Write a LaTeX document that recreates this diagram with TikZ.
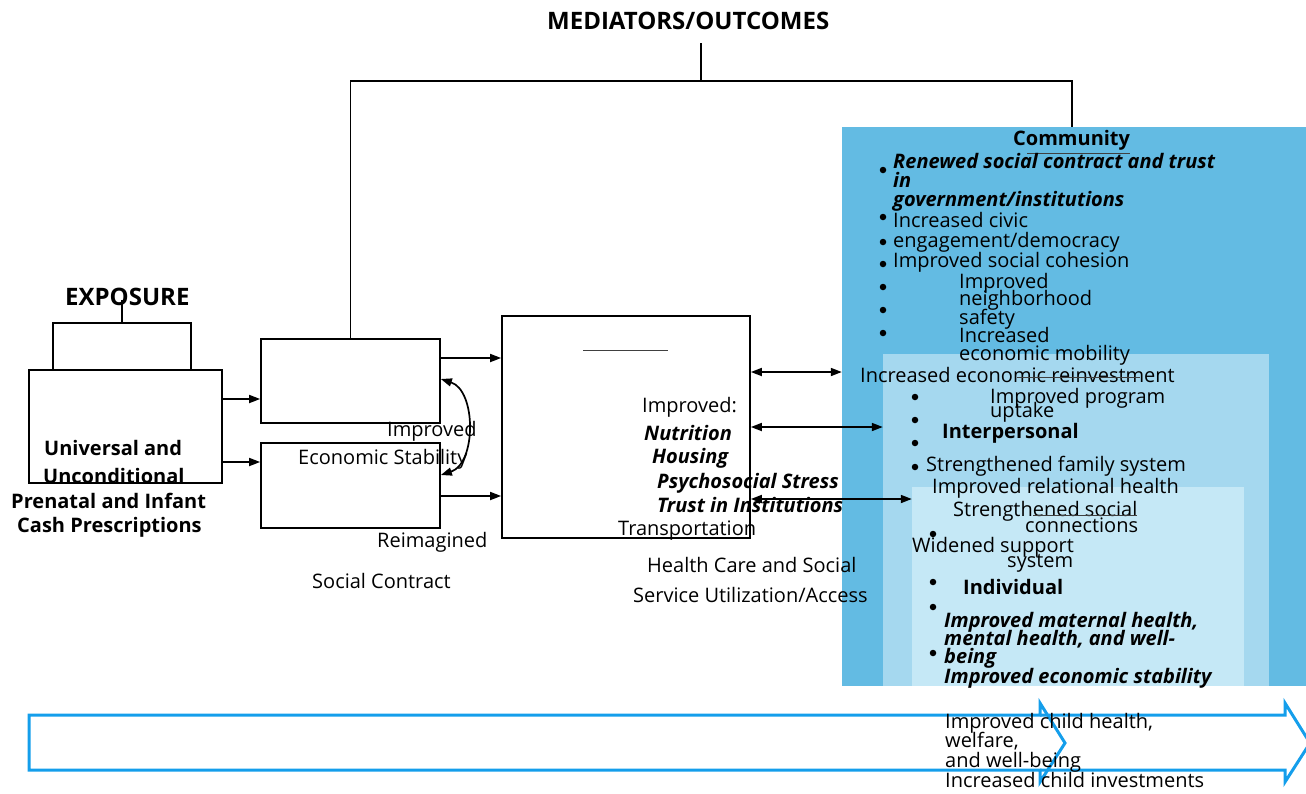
\documentclass[tikz,border=0pt]{standalone}
\usepackage{fontspec}
\setmainfont{Open Sans}
\usepackage{xcolor}
\usetikzlibrary{arrows.meta}
\definecolor{outerblue}{RGB}{99,187,227}
\definecolor{midblue}{RGB}{165,216,239}
\definecolor{innerblue}{RGB}{197,232,246}
\definecolor{bandblue}{RGB}{20,158,235}
\tikzset{
    box/.style={draw, line width=1.7pt, inner sep=0pt},
    panel/.style={draw=none, inner sep=0pt},
    txt/.style={anchor=base west, inner sep=0pt, font=\fontsize{20}{20}\selectfont},
    hd/.style={txt, font=\fontsize{20}{20}\selectfont\bfseries},
    bighd/.style={txt, font=\fontsize{24}{24}\selectfont\bfseries},
    bi/.style={txt, font=\fontsize{20}{20}\selectfont\bfseries\itshape},
    dot/.style={circle, fill, inner sep=0pt, minimum size=6.5pt},
    rule/.style={line width=1.5pt},
    thin/.style={line width=0.8pt, black!75},
    band/.style={draw=bandblue, line width=3pt, line join=miter}
}

\begin{document}
\begin{tikzpicture}[x=1pt, y=-1pt, >={Triangle[length=11pt,width=8pt]}]
    \useasboundingbox (0,0) rectangle (1306,793);

    \node [panel, fill=outerblue, minimum width=464pt, minimum height=559pt] (comm) at (1074,406.5) {};
    \node [panel, fill=midblue, minimum width=386pt, minimum height=332pt] (interp) at (1076,520) {};
    \node [panel, fill=innerblue, minimum width=332pt, minimum height=199pt] (indiv) at (1078,586.5) {};

    \node [box, minimum width=193pt, minimum height=113pt] (expo) at (125.5,426.5) {};
    \node [box, minimum width=138pt, minimum height=47pt] (expotab) at (122,346.5) {};
    \node [box, minimum width=179pt, minimum height=84pt] (econ) at (350.5,381) {};
    \node [box, minimum width=179pt, minimum height=85pt] (social) at (350.5,485.5) {};
    \node [box, minimum width=248pt, minimum height=222pt] (med) at (626,427) {};

    \coordinate (mtop) at (701,43);
    \coordinate (mjoin) at (701,81);
    \coordinate (etop) at (122,300);
    \draw [rule] (mtop) -- (mjoin);
    \draw [rule] (econ.north) |- (mjoin) -| (comm.north -| 1072,0);
    \draw [rule] (etop) -- (expotab.north);

    \node [bighd] (medtitle) at (547,29) {MEDIATORS/OUTCOMES};
    \node [bighd] (expotitle) at (65,305) {EXPOSURE};
    \node [hd] (univ) at (44,455) {Universal and};
    \node [hd] (uncond) at (43,483) {Unconditional};
    \node [hd] (prenatal) at (11,508) {Prenatal and Infant};
    \node [hd] (cash) at (17,532) {Cash Prescriptions};

    \draw [->, line width=1.7pt] (expo.east |- 0,399) to (econ.west |- 0,399);
    \draw [->, line width=1.7pt] (expo.east |- 0,462) to (social.west |- 0,462);
    \draw [->, line width=1.7pt] (econ.east |- 0,358) to (med.west |- 0,358);
    \draw [->, line width=1.7pt] (social.east |- 0,496) to (med.west |- 0,496);
    \draw [<->, line width=1.7pt] (econ.east |- 0,379) to [bend left=72] (social.east |- 0,475);
    \draw [<->, line width=1.7pt] (med.east |- 0,372) to (comm.west |- 0,372);
    \draw [<->, line width=1.7pt] (med.east |- 0,427) to (interp.west |- 0,427);
    \draw [<->, line width=1.7pt] (med.east |- 0,499) to (indiv.west |- 0,499);

    \node [txt] (impr1) at (387,436) {Improved};
    \node [txt] (econstab) at (298,464) {Economic Stability};
    \node [txt] (reimag) at (377,547) {Reimagined};
    \node [txt] (socctr) at (312,588) {Social Contract};

    \draw [thin] (583,350) -- (668,350);
    \node [txt] (imprmed) at (642,412) {Improved:};
    \node [bi] (nutr) at (644,440) {Nutrition};
    \node [bi] (hous) at (652,463) {Housing};
    \node [bi] (psych) at (657,488) {Psychosocial Stress};
    \node [bi] (trust) at (657,512) {Trust in Institutions};
    \node [txt] (transp) at (618,535) {Transportation};
    \node [txt] (hcare) at (647,572) {Health Care and Social};
    \node [txt] (serv) at (633,602) {Service Utilization/Access};

    \node [hd] (commtitle) at (1013,145) {Community};
    \draw [thin] (1027,153) -- (1130,153);
    \node [dot] (b1) at (883,170) {};
    \node [dot] (b2) at (883,217) {};
    \node [dot] (b3) at (883,242) {};
    \node [dot] (b4) at (883,264) {};
    \node [dot] (b5) at (883,287) {};
    \node [dot] (b6) at (883,310) {};
    \node [dot] (b7) at (883,333) {};
    \node [bi] (renew1) at (893,168) {Renewed social contract and trust};
    \node [bi] (renew2) at (893,187) {in};
    \node [bi] (renew3) at (893,206) {government/institutions};
    \node [txt] (civic1) at (893,227) {Increased civic};
    \node [txt] (civic2) at (893,247) {engagement/democracy};
    \node [txt] (cohes) at (893,267) {Improved social cohesion};
    \node [txt] (safe1) at (959,288) {Improved};
    \node [txt] (safe2) at (959,305) {neighborhood};
    \node [txt] (safe3) at (959,324) {safety};
    \node [txt] (mob1) at (959,342) {Increased};
    \node [txt] (mob2) at (959,360) {economic mobility};
    \node [txt] (reinv) at (860,382) {Increased economic reinvestment};
    \draw [thin] (1017,377) -- (1140,377);

    \node [dot] (b8) at (915,397) {};
    \node [dot] (b9) at (915,420) {};
    \node [dot] (b10) at (915,443) {};
    \node [dot] (b11) at (915,467) {};
    \node [txt] (prog1) at (990,403) {Improved program};
    \node [txt] (prog2) at (990,417) {uptake};
    \node [hd] (interptitle) at (942,438) {Interpersonal};
    \node [txt] (family) at (926,471) {Strengthened family system};
    \node [txt] (relat) at (932,493) {Improved relational health};
    \node [txt] (conn1) at (953,516) {Strengthened social};
    \draw [thin] (1033,515) -- (1137,515);
    \node [txt] (conn2) at (1025,532) {connections};
    \node [txt] (supp1) at (912,552) {Widened support};
    \node [txt] (supp2) at (1007,567) {system};

    \node [dot] (b12) at (933,534) {};
    \node [dot] (b13) at (933,582) {};
    \node [dot] (b14) at (933,607) {};
    \node [dot] (b15) at (933,653) {};
    \node [hd] (indivtitle) at (963,594) {Individual};
    \node [bi] (mat1) at (944,627) {Improved maternal health,};
    \node [bi] (mat2) at (944,645) {mental health, and well-};
    \node [bi] (mat3) at (944,663) {being};
    \node [bi] (stab) at (944,683) {Improved economic stability};

    \draw [band] (29,715) -- (1040,715) -- (1040,703) -- (1065,743) -- (1040,782) -- (1040,770) -- (29,770) -- cycle;
    \draw [band] (1040,715) -- (1285,715) -- (1285,703) -- (1310,743) -- (1285,782) -- (1285,770) -- (1040,770);
    \node [txt] (child1) at (945,728) {Improved child health,};
    \node [txt] (child2) at (945,747) {welfare,};
    \node [txt] (child3) at (945,767) {and well-being};
    \node [txt] (child4) at (945,787) {Increased child investments};
  \end{tikzpicture}
\end{document}
